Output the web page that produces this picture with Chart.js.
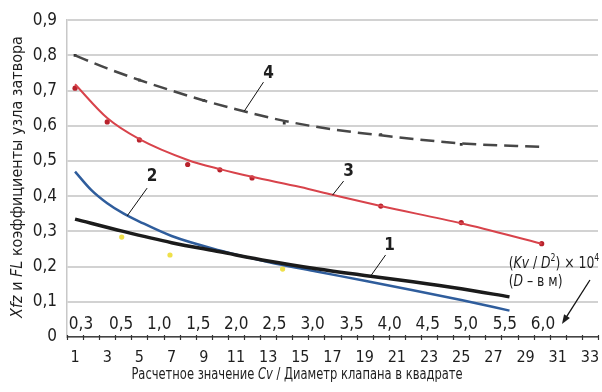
<!DOCTYPE html>
<html>
<head>
<meta charset="utf-8">
<script src="https://cdn.jsdelivr.net/npm/chart.js@4.4.1/dist/chart.umd.min.js"></script>
<style>
  html, body { margin: 0; padding: 0; background: #fff; }
  #wrap { width: 602px; height: 392px; }
</style>
</head>
<body>
<div id="wrap"><canvas id="chart"></canvas></div>
<script>
const FONT = "'Liberation Sans Narrow', 'DejaVu Sans Condensed', 'Roboto Condensed', 'Liberation Sans', sans-serif";

// categories on the bottom axis (only odd ones are labelled)
const categories = [1,2,3,4,5,6,7,8,9,10,11,12,13,14,15,16,17,18,19,20,21,22,23,24,25,26,27,28,29,30,31,32,33];
const xTickLabels = [1,3,5,7,9,11,13,15,17,19,21,23,25,27,29,31,33];

// second scale written inside the plot: (Kv / D^2) x 10^4
const kvLabels = ["0,3","0,5","1,0","1,5","2,0","2,5","3,0","3,5","4,0","4,5","5,0","5,5","6,0"];
const kvAt = [1.37, 3.86, 6.23, 8.66, 11.02, 13.39, 15.76, 18.19, 20.55, 22.92, 25.28, 27.71, 30.08];
const kvLevel = 0.034;

// curve 1 (black)
const c1x = [1, 4, 7, 10, 13, 16, 19, 22, 25, 28];
const c1y = [0.335, 0.300, 0.268, 0.242, 0.216, 0.194, 0.175, 0.157, 0.137, 0.114];

// curve 2 (blue)
const c2x = [1, 2, 3, 4, 5, 7, 10, 13, 16, 19, 22, 25, 28];
const c2y = [0.470, 0.418, 0.380, 0.351, 0.328, 0.287, 0.246, 0.213, 0.186, 0.160, 0.133, 0.105, 0.075];

// curve 3 (red) trend and measured points
const c3x = [1, 3, 5, 8, 10, 12, 15, 17, 20, 25, 30];
const c3y = [0.718, 0.622, 0.562, 0.503, 0.477, 0.455, 0.426, 0.404, 0.372, 0.323, 0.265];
const p3x = [1, 3, 5, 8, 10, 12, 20, 25, 30];
const p3y = [0.707, 0.611, 0.560, 0.490, 0.475, 0.452, 0.372, 0.325, 0.265];

// curve 4 (dashed) trend and measured points
const c4x = [1, 3, 5, 7, 9, 11, 14, 17, 20, 25, 30];
const c4y = [0.800, 0.763, 0.730, 0.700, 0.672, 0.647, 0.614, 0.590, 0.573, 0.550, 0.540];
const p4x = [1, 5, 9, 14, 20, 25];
const p4y = [0.800, 0.730, 0.672, 0.608, 0.575, 0.547];

// yellow points
const pyx = [3.9, 6.9, 13.9];
const pyy = [0.284, 0.233, 0.193];

// curve numbers with leader lines (text pos, line from, line to)
const curveNames = ["4", "2", "3", "1"];
const namePos = [[13.02, 0.747], [5.79, 0.455], [18.0, 0.469], [20.55, 0.261]];
const leadFrom = [[12.71, 0.724], [5.48, 0.423], [17.69, 0.443], [20.3, 0.233]];
const leadTo = [[11.52, 0.642], [4.24, 0.344], [17.0, 0.403], [19.37, 0.173]];

const pts = (xs, ys) => xs.map((x, i) => ({ x: x, y: ys[i] }));

function drawRich(ctx, parts, x, y, align, size, sx) {
  const f = (p) => (p.it ? "italic " : "") + (p.sup ? Math.round(size * 0.62) : size) + "px " + FONT;
  let w = 0;
  parts.forEach(p => { ctx.font = f(p); w += ctx.measureText(p.t).width; });
  ctx.save();
  ctx.translate(x, y);
  ctx.scale(sx || 1, 1);
  let cx = align === "center" ? -w / 2 : 0;
  ctx.textAlign = "left";
  ctx.textBaseline = "middle";
  parts.forEach(p => {
    ctx.font = f(p);
    ctx.fillText(p.t, cx, p.sup ? -size * 0.35 : 0);
    cx += ctx.measureText(p.t).width;
  });
  ctx.restore();
}

const extras = {
  id: "extras",
  afterDraw(chart) {
    const ctx = chart.ctx;
    const xs = chart.scales.x, ys = chart.scales.y;
    const area = chart.chartArea;
    ctx.save();
    ctx.fillStyle = "#1e1e1e";
    ctx.strokeStyle = "#333";

    // tick marks between categories, crossing the axis
    ctx.lineWidth = 1.2;
    categories.concat([categories.length + 1]).forEach(c => {
      const px = Math.round(xs.getPixelForValue(c - 0.5)) + 0.5;
      ctx.beginPath();
      ctx.moveTo(px, area.bottom - 2);
      ctx.lineTo(px, area.bottom + 3);
      ctx.stroke();
    });

    // second scale labels
    ctx.font = "17px " + FONT;
    ctx.textAlign = "center";
    ctx.textBaseline = "middle";
    kvLabels.forEach((t, i) => ctx.fillText(t, xs.getPixelForValue(kvAt[i]), ys.getPixelForValue(kvLevel)));

    // curve numbers and leaders
    ctx.font = "bold 17px " + FONT;
    ctx.lineWidth = 1;
    ctx.strokeStyle = "#111";
    curveNames.forEach((t, i) => {
      ctx.fillText(t, xs.getPixelForValue(namePos[i][0]), ys.getPixelForValue(namePos[i][1]));
      ctx.beginPath();
      ctx.moveTo(xs.getPixelForValue(leadFrom[i][0]), ys.getPixelForValue(leadFrom[i][1]));
      ctx.lineTo(xs.getPixelForValue(leadTo[i][0]), ys.getPixelForValue(leadTo[i][1]));
      ctx.stroke();
    });

    // note about the second scale
    const nx = xs.getPixelForValue(27.95);
    drawRich(ctx, [{ t: "(" }, { t: "Kv", it: true }, { t: " / " }, { t: "D", it: true }, { t: "2", sup: true },
      { t: ") × 10" }, { t: "4", sup: true }], nx, ys.getPixelForValue(0.207), "left", 16, 0.86);
    drawRich(ctx, [{ t: "(" }, { t: "D", it: true }, { t: " – в м)" }], nx, ys.getPixelForValue(0.156), "left", 16, 0.86);

    // arrow
    const ax0 = xs.getPixelForValue(33.0), ay0 = ys.getPixelForValue(0.162);
    const ax1 = xs.getPixelForValue(31.26), ay1 = ys.getPixelForValue(0.037);
    const ang = Math.atan2(ay1 - ay0, ax1 - ax0);
    ctx.lineWidth = 1.3;
    ctx.beginPath();
    ctx.moveTo(ax0, ay0);
    ctx.lineTo(ax1 - 6 * Math.cos(ang), ay1 - 6 * Math.sin(ang));
    ctx.stroke();
    ctx.beginPath();
    ctx.moveTo(ax1, ay1);
    ctx.lineTo(ax1 - 10 * Math.cos(ang - 0.35), ay1 - 10 * Math.sin(ang - 0.35));
    ctx.lineTo(ax1 - 10 * Math.cos(ang + 0.35), ay1 - 10 * Math.sin(ang + 0.35));
    ctx.closePath();
    ctx.fill();

    // axis titles
    drawRich(ctx, [{ t: "Расчетное значение " }, { t: "Cv", it: true }, { t: " / Диаметр клапана в квадрате" }],
      297, 375, "center", 16, 0.8);
    ctx.translate(18, 177);
    ctx.rotate(-Math.PI / 2);
    drawRich(ctx, [{ t: "Xfz", it: true }, { t: " и " }, { t: "FL", it: true }, { t: " коэффициенты узла затвора" }],
      0, 0, "center", 16, 1);
    ctx.restore();
  }
};

new Chart(document.getElementById("chart"), {
  type: "line",
  data: {
    datasets: [
      { data: pts(c1x, c1y), borderColor: "#1b1b1b", borderWidth: 3.5, pointRadius: 0, cubicInterpolationMode: "monotone" },
      { data: pts(c2x, c2y), borderColor: "#2f5d9c", borderWidth: 2.5, pointRadius: 0, cubicInterpolationMode: "monotone" },
      { data: pts(c3x, c3y), borderColor: "#d8434b", borderWidth: 2, pointRadius: 0, cubicInterpolationMode: "monotone" },
      { data: pts(p3x, p3y), showLine: false, pointRadius: 2.6, pointBackgroundColor: "#b8222c", pointBorderWidth: 0 },
      { data: pts(c4x, c4y), borderColor: "#474747", borderWidth: 2.5, borderDash: [14, 7], pointRadius: 0, cubicInterpolationMode: "monotone" },
      { data: pts(p4x, p4y), showLine: false, pointStyle: "rect", pointRadius: 2, pointBackgroundColor: "#333", pointBorderWidth: 0 },
      { data: pts(pyx, pyy), showLine: false, pointRadius: 2.6, pointBackgroundColor: "#efe04a", pointBorderWidth: 0 }
    ]
  },
  options: {
    responsive: true,
    maintainAspectRatio: false,
    animation: false,
    events: [],
    layout: { padding: { left: 30, right: 4, top: 18, bottom: 0 } },
    plugins: { legend: { display: false }, tooltip: { enabled: false } },
    scales: {
      x: {
        type: "linear",
        min: 0.5,
        max: 33.5,
        afterBuildTicks: s => { s.ticks = xTickLabels.map(v => ({ value: v })); },
        afterFit: s => { s.height = 55; s.paddingLeft = 0; s.paddingRight = 0; },
        grid: { display: false, drawTicks: false },
        border: { display: true, color: "#444", width: 1.5 },
        ticks: { autoSkip: false, maxRotation: 0, padding: 11, color: "#1e1e1e", font: { family: FONT, size: 16 } }
      },
      y: {
        min: 0,
        max: 0.9,
        afterFit: s => { s.width = 37; },
        grid: { color: "#d2d2d2", lineWidth: 2, drawTicks: false },
        border: { display: true, color: "#c8c8c8", width: 1.5 },
        ticks: {
          stepSize: 0.1,
          padding: 10,
          color: "#1e1e1e",
          font: { family: FONT, size: 17 },
          callback: v => (Math.abs(v) < 1e-9 ? "0" : v.toFixed(1).replace(".", ","))
        }
      }
    }
  },
  plugins: [extras]
});
</script>
</body>
</html>
